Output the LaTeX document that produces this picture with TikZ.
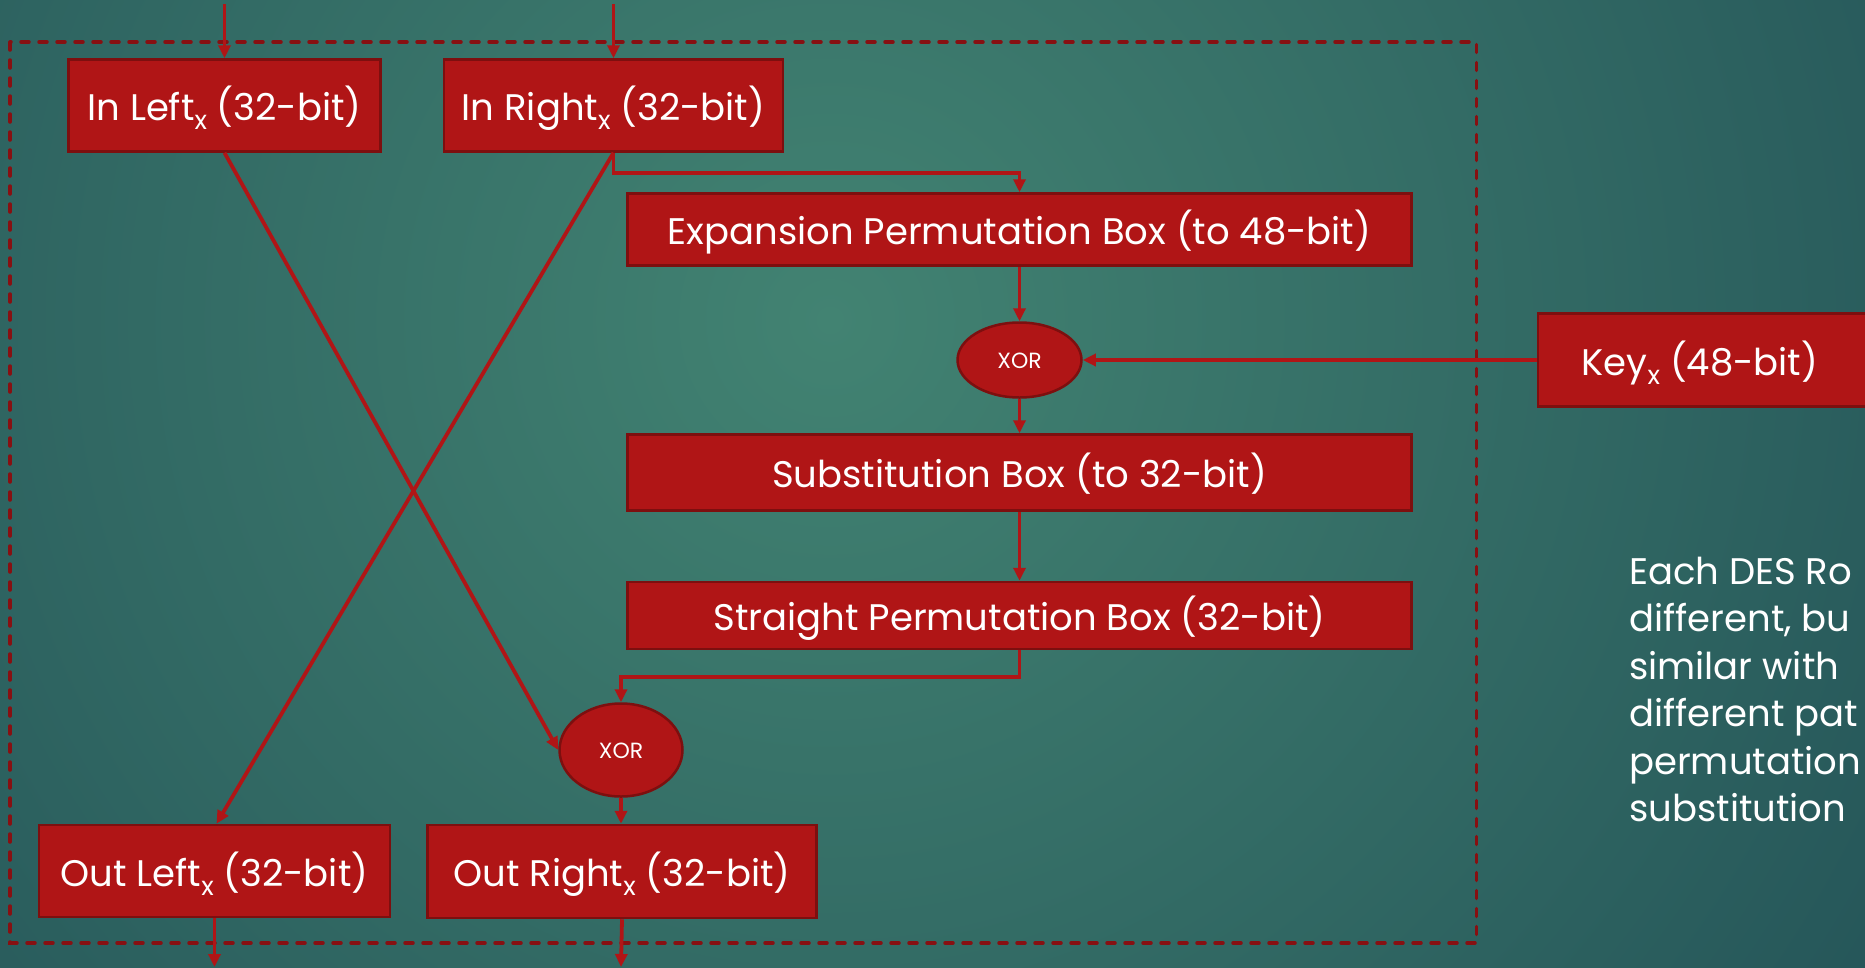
\documentclass[tikz,border=0pt]{standalone}
\usepackage{fontspec}
\setmainfont{Poppins}
\usetikzlibrary{arrows.meta,shapes.geometric}
\definecolor{boxfill}{RGB}{176,21,22}
\definecolor{boxline}{RGB}{125,15,15}
\definecolor{dashcol}{RGB}{135,16,18}
\definecolor{bginner}{RGB}{66,131,114}
\definecolor{bgouter}{RGB}{22,62,76}
\newcommand\sbx{\raisebox{-9pt}{\fontsize{26}{26}\selectfont x}}
\tikzset{
  box/.style={rectangle, draw=boxline, line width=2.5pt, fill=boxfill, text=white,
    inner sep=0pt, font=\fontsize{37}{44}\selectfont, text height=30pt, text depth=0pt},
  xorbox/.style={ellipse, draw=boxline, line width=2.5pt, fill=boxfill, text=white,
    inner sep=0pt, font=\fontsize{22}{26}\selectfont, text height=16pt, text depth=0pt},
  conn/.style={draw=boxfill, line width=3.8pt, -{Triangle[length=13pt,width=12pt]}},
  note/.style={anchor=base west, inner sep=0pt, text=white, font=\fontsize{37}{44}\selectfont},
  frame/.style={draw=dashcol, line width=3.5pt, line cap=round, dash pattern=on 8pt off 10pt}
}
\begin{document}
\begin{tikzpicture}[x=1pt,y=-1pt]
\useasboundingbox (0,0) rectangle (1865,967);
\begin{scope}
  \clip (0,0) rectangle (1865,967);
  \shade[inner color=bginner, outer color=bgouter] (830,320) circle[radius=1900pt];
\end{scope}
% dashed round frame
\draw[frame] (10,42) rectangle (1476.5,943);
% nodes
\node[box, minimum width=312pt, minimum height=92pt] (inL) at (224.5,105.5) {In Left\sbx{} (32-bit)};
\node[box, minimum width=339pt, minimum height=92pt] (inR) at (613.5,105.5) {In Right\sbx{} (32-bit)};
\node[box, minimum width=784pt, minimum height=72pt] (exp) at (1019.5,229.5) {Expansion Permutation Box (to 48-bit)};
\node[xorbox, minimum width=124pt, minimum height=75pt] (xorA) at (1019.5,360) {XOR};
\node[box, minimum width=340pt, minimum height=93pt] (key) at (1708,360) {\hspace*{-16pt}Key\sbx{} (48-bit)};
\node[box, minimum width=784pt, minimum height=76pt] (sub) at (1019.5,472.5) {Substitution Box (to 32-bit)};
\node[box, minimum width=784pt, minimum height=67pt] (str) at (1019.5,615.5) {Straight Permutation Box (32-bit)};
\node[xorbox, minimum width=123pt, minimum height=93pt] (xorB) at (621,750) {XOR};
\node[box, minimum width=351pt, minimum height=92pt] (outL) at (214.5,871) {Out Left\sbx{} (32-bit)};
\node[box, minimum width=389pt, minimum height=93pt] (outR) at (622,871.5) {Out Right\sbx{} (32-bit)};
% note text
\node[note] (n1) at (1629,584) {Each DES Ro};
\node[note] (n2) at (1629,631.5) {different, bu};
\node[note] (n3) at (1629,679) {similar with};
\node[note] (n4) at (1629,726.5) {different pat};
\node[note] (n5) at (1629,774) {permutation};
\node[note] (n6) at (1629,821.5) {substitution};
% free ends
\coordinate (srcL) at (224.5,4);
\coordinate (srcR) at (613.5,4);
\coordinate (dstL) at (214.5,967);
\coordinate (dstR) at (621,967);
\coordinate (jR) at (0,173);
\coordinate (jS) at (0,677);
% connectors
\draw[conn] (srcL) -- (inL.north);
\draw[conn] (srcR) -- (inR.north);
\draw[conn] (inR.south) -- (inR.south |- jR) -| (exp.north);
\draw[conn] (exp.south) -- (xorA.north);
\draw[conn] (key.west) -- (xorA.east);
\draw[conn] (xorA.south) -- (sub.north);
\draw[conn] (sub.south) -- (str.north);
\draw[conn] (str.south) -- (str.south |- jS) -| (xorB.north);
\draw[conn] (inL.south) -- (xorB.west);
\draw[conn] (inR.south) -- ([xshift=2pt]outL.north);
\draw[conn] (xorB.south) -- ([xshift=-1pt]outR.north);
\draw[conn] (outL.south) -- (dstL);
\draw[conn] (outR.south) -- (dstR);
\end{tikzpicture}
\end{document}
